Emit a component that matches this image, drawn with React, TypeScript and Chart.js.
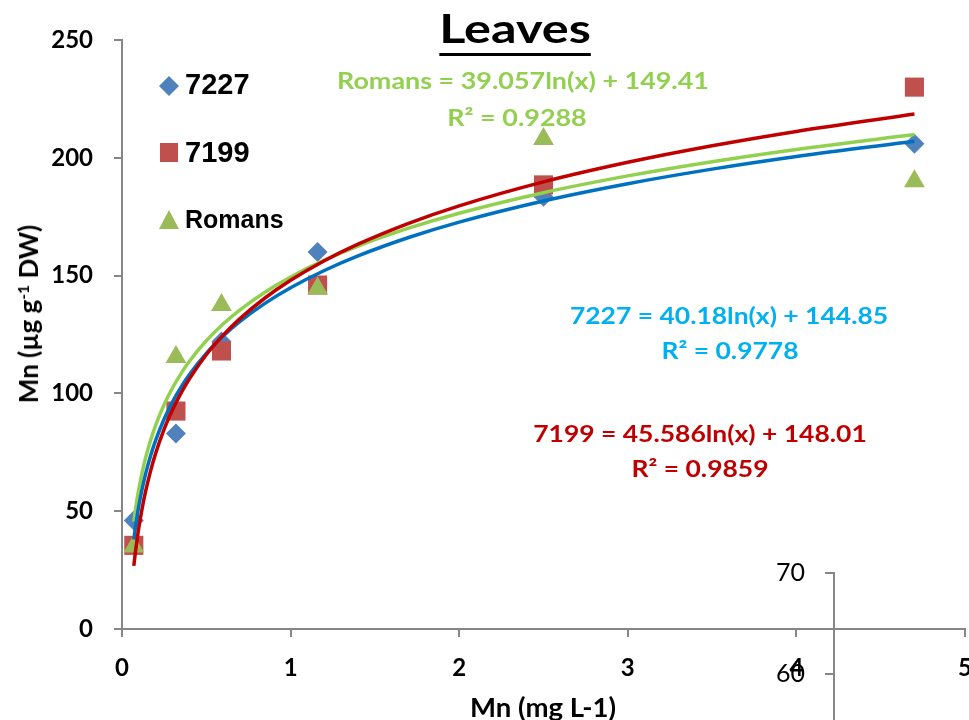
import React, { useEffect, useRef } from "react";
import { Chart, registerables } from "chart.js";

Chart.register(...registerables);

// ---- data ----
const X_VALUES = [0.07, 0.32, 0.59, 1.16, 2.5, 4.7];
const Y_7227 = [46, 83, 122, 160, 183.5, 206];
const Y_7199 = [35.5, 92.5, 118, 146, 188.5, 230];
const Y_ROMANS = [35, 115.5, 137.5, 144.5, 208, 190];

// logarithmic trendline coefficients printed on the chart: y = a ln(x) + b
const FIT_7227 = { a: 40.18, b: 144.85 };
const FIT_7199 = { a: 45.586, b: 148.01 };
const FIT_ROMANS = { a: 39.057, b: 149.41 };
const TREND_X = [0.07, 0.08, 0.09, 0.1, 0.12, 0.14, 0.17, 0.2, 0.25, 0.3, 0.35, 0.4, 0.5, 0.6, 0.7, 0.85, 1, 1.2, 1.4, 1.7, 2, 2.5, 3, 3.5, 4, 4.7];

const Y_TICKS = [0, 50, 100, 150, 200, 250];
const X_TICKS = [0, 1, 2, 3, 4, 5];
const STRAY_TICKS = [60, 70];

const AXIS_GRAY = "#868686";

const pts = (ys: number[]) => X_VALUES.map((x, i) => ({ x, y: ys[i] }));
const trend = (f: { a: number; b: number }) => TREND_X.map((x) => ({ x, y: f.a * Math.log(x) + f.b }));

const tickFont = { family: "Lato", size: 24, weight: "bold" as const };

function MainChart() {
  const ref = useRef<HTMLCanvasElement | null>(null);
  useEffect(() => {
    if (!ref.current) return;
    const lineDs = (label: string, data: any[], color: string) => ({
      label,
      data,
      showLine: true,
      borderColor: color,
      backgroundColor: color,
      borderWidth: 3.5,
      pointRadius: 0,
      tension: 0.3,
      cubicInterpolationMode: "monotone" as const,
    });
    const chart = new Chart(ref.current, {
      type: "scatter",
      data: {
        datasets: [
          lineDs("7199 trend", trend(FIT_7199), "#C00000"),
          lineDs("7227 trend", trend(FIT_7227), "#0070C0"),
          lineDs("Romans trend", trend(FIT_ROMANS), "#92D050"),
          {
            label: "Romans",
            data: pts(Y_ROMANS),
            pointStyle: "triangle",
            pointRadius: 12,
            backgroundColor: "#9BBB59",
            borderColor: "#9BBB59",
            borderWidth: 0,
          },
          {
            label: "7199",
            data: pts(Y_7199),
            pointStyle: "rect",
            pointRadius: 13.5,
            backgroundColor: "#C0504D",
            borderColor: "#C0504D",
            borderWidth: 0,
          },
          {
            label: "7227",
            data: pts(Y_7227),
            pointStyle: "rectRot",
            pointRadius: 10,
            backgroundColor: "#4F81BD",
            borderColor: "#4F81BD",
            borderWidth: 0,
          },
        ],
      },
      options: {
        responsive: false,
        animation: false,
        layout: { padding: { top: 40, right: 25, left: 0, bottom: 0 } },
        plugins: { legend: { display: false }, tooltip: { enabled: false }, title: { display: false } },
        scales: {
          x: {
            type: "linear",
            min: 0,
            max: 5,
            afterBuildTicks: (s: any) => {
              s.ticks = X_TICKS.map((v) => ({ value: v }));
            },
            afterFit: (s: any) => {
              s.height = 91;
            },
            border: { display: true, color: AXIS_GRAY, width: 2 },
            grid: { drawOnChartArea: false, drawTicks: true, tickLength: 8, color: AXIS_GRAY, lineWidth: 2 },
            ticks: { font: tickFont, color: "#000", padding: 17, maxRotation: 0, autoSkip: false },
          },
          y: {
            type: "linear",
            min: 0,
            max: 250,
            afterBuildTicks: (s: any) => {
              s.ticks = Y_TICKS.map((v) => ({ value: v }));
            },
            afterFit: (s: any) => {
              s.width = 122;
            },
            border: { display: true, color: AXIS_GRAY, width: 2 },
            grid: { drawOnChartArea: false, drawTicks: true, tickLength: 8, color: AXIS_GRAY, lineWidth: 2 },
            ticks: { font: tickFont, color: "#000", padding: 21, autoSkip: false },
          },
        },
      },
    });
    return () => chart.destroy();
  }, []);
  return <canvas ref={ref} width={990} height={720} style={{ position: "absolute", left: 0, top: 0, width: 990, height: 720 }} />;
}

function StrayAxis() {
  const ref = useRef<HTMLCanvasElement | null>(null);
  useEffect(() => {
    if (!ref.current) return;
    const chart = new Chart(ref.current, {
      type: "scatter",
      data: { datasets: [] },
      options: {
        responsive: false,
        animation: false,
        layout: { padding: { top: 23, right: 0, left: 0, bottom: 0 } },
        plugins: { legend: { display: false }, tooltip: { enabled: false } },
        scales: {
          x: { display: false, min: 0, max: 1 },
          y: {
            type: "linear",
            min: 55.45,
            max: 70,
            afterBuildTicks: (s: any) => {
              s.ticks = STRAY_TICKS.map((v) => ({ value: v }));
            },
            afterFit: (s: any) => {
              s.width = 74;
              s.paddingTop = 0;
              s.paddingBottom = 0;
            },
            border: { display: true, color: AXIS_GRAY, width: 2 },
            grid: { drawOnChartArea: false, drawTicks: true, tickLength: 9, color: AXIS_GRAY, lineWidth: 2 },
            ticks: { font: { family: "Lato", size: 25, weight: "normal" }, color: "#000", padding: 20, autoSkip: false },
          },
        },
      },
    });
    return () => chart.destroy();
  }, []);
  return <canvas ref={ref} width={120} height={170} style={{ position: "absolute", left: 760, top: 550, width: 120, height: 170 }} />;
}

const Txt = ({ x, y, children, style, left, sx = 1, rot = 0 }: any) => (
  <div
    style={{
      position: "absolute",
      left: x,
      top: y,
      transform: (left ? "translate(0,-50%)" : "translate(-50%,-50%)") + (rot ? ` rotate(${rot}deg)` : "") + ` scaleX(${sx})`,
      transformOrigin: left ? "left center" : "center center",
      whiteSpace: "nowrap",
      lineHeight: 1,
      fontFamily: "Lato",
      fontWeight: "bold",
      ...style,
    }}
  >
    {children}
  </div>
);

export default function App() {
  const legendFont = { fontFamily: "'Liberation Sans', Arial, sans-serif", fontWeight: "bold", color: "#000" };
  const eq = { fontSize: 23 };
  return (
    <div style={{ position: "absolute", left: 0, top: 0, width: 969, height: 720, overflow: "hidden", background: "#fff" }}>
      <MainChart />
      <StrayAxis />

      {/* title */}
      <Txt
        x={514.5}
        y={27.5}
        sx={1.26}
        style={{ fontSize: 40, color: "#000", textDecoration: "underline", textDecorationThickness: "3px", textUnderlineOffset: "10px" }}
      >
        Leaves
      </Txt>

      {/* axis titles */}
      <Txt x={28} y={314} rot={-90} style={{ fontSize: 26, color: "#000" }}>
        Mn (µg g<span style={{ fontSize: "0.6em", position: "relative", top: "-0.55em" }}>-1</span> DW)
      </Txt>
      <Txt x={543} y={707} sx={1.06} style={{ fontSize: 26, color: "#000" }}>
        Mn (mg L-1)
      </Txt>

      {/* legend */}
      <svg style={{ position: "absolute", left: 159, top: 76 }} width={20} height={20}>
        <polygon points="10,0 20,10 10,20 0,10" fill="#4F81BD" />
      </svg>
      <Txt x={185} y={83.5} left style={{ ...legendFont, fontSize: 29 }}>7227</Txt>
      <div style={{ position: "absolute", left: 160, top: 143, width: 18, height: 19, background: "#C0504D" }} />
      <Txt x={185} y={151.5} left style={{ ...legendFont, fontSize: 29 }}>7199</Txt>
      <svg style={{ position: "absolute", left: 159, top: 210 }} width={20} height={19}>
        <polygon points="10,0 20,19 0,19" fill="#9BBB59" />
      </svg>
      <Txt x={185} y={218.5} left style={{ ...legendFont, fontSize: 25 }}>Romans</Txt>

      {/* trendline equations */}
      <Txt x={523} y={80} sx={1.17} style={{ ...eq, color: "#92D050" }}>Romans = 39.057ln(x) + 149.41</Txt>
      <Txt x={517} y={117} sx={1.17} style={{ ...eq, color: "#92D050" }}>R² = 0.9288</Txt>
      <Txt x={729} y={315} sx={1.15} style={{ ...eq, color: "#00B0F0" }}>7227 = 40.18ln(x) + 144.85</Txt>
      <Txt x={730} y={350} sx={1.15} style={{ ...eq, color: "#00B0F0" }}>R² = 0.9778</Txt>
      <Txt x={700} y={433} sx={1.15} style={{ ...eq, color: "#C00000" }}>7199 = 45.586ln(x) + 148.01</Txt>
      <Txt x={700} y={468} sx={1.15} style={{ ...eq, color: "#C00000" }}>R² = 0.9859</Txt>
    </div>
  );
}
